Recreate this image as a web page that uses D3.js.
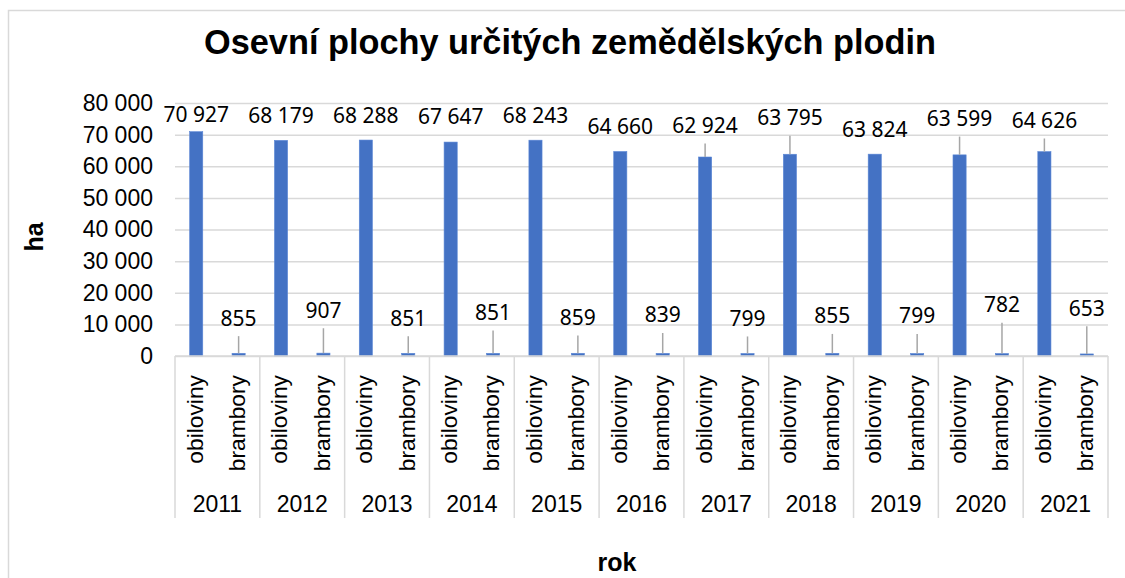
<!DOCTYPE html>
<html>
<head>
<meta charset="utf-8">
<script src="https://cdn.jsdelivr.net/npm/d3@7"></script>
<style>
  body { margin: 0; background: #fff; }
  svg { display: block; }
</style>
</head>
<body>
<div id="wrapper"></div>
<script>
// data
const years = ["2011", "2012", "2013", "2014", "2015", "2016", "2017", "2018", "2019", "2020", "2021"]
const crops = ["obiloviny", "brambory"]
const obiloviny = [70927, 68179, 68288, 67647, 68243, 64660, 62924, 63795, 63824, 63599, 64626]
const brambory = [855, 907, 851, 851, 859, 839, 799, 855, 799, 782, 653]
// where the data labels sit (in axis units, as placed in the original)
const obilovinyLabelAt = [74000, 73700, 73700, 73400, 73700, 70200, 70500, 73000, 69200, 72700, 72100]
const bramboryLabelAt = [9600, 12100, 9600, 11400, 9800, 10600, 9500, 10300, 10300, 13800, 12700]
const yTicks = [0, 10000, 20000, 30000, 40000, 50000, 60000, 70000, 80000]

const renderChart = () => {
  const dimensions = {
    width: 1125,
    height: 578,
    margins: { top: 103, right: 17, bottom: 222, left: 175 },
  }
  dimensions.boundedWidth =
    dimensions.width - dimensions.margins.left - dimensions.margins.right
  dimensions.boundedHeight =
    dimensions.height - dimensions.margins.top - dimensions.margins.bottom

  const locale = d3.formatLocale({ decimal: ",", thousands: " ", grouping: [3], currency: ["", ""] })
  const fmt = locale.format(",d")

  const svg = d3
    .select("#wrapper")
    .append("svg")
    .attr("width", dimensions.width)
    .attr("height", dimensions.height)

  // outer chart border
  svg
    .append("rect")
    .attr("x", 8.5)
    .attr("y", 10.5)
    .attr("width", 1200)
    .attr("height", 700)
    .attr("fill", "none")
    .attr("stroke", "#d9d9d9")
    .attr("stroke-width", 1.5)

  svg
    .append("text")
    .attr("x", 570)
    .attr("y", 54)
    .attr("text-anchor", "middle")
    .style("font-family", "'Liberation Sans', Arial, sans-serif")
    .style("font-weight", "bold")
    .style("font-size", "34.3px")
    .text("Osevní plochy určitých zemědělských plodin")

  const bounds = svg
    .append("g")
    .attr("transform", `translate(${dimensions.margins.left},${dimensions.margins.top})`)

  // scales
  const x0 = d3.scaleBand().domain(years).range([0, dimensions.boundedWidth])
  const x1 = d3
    .scaleBand()
    .domain(crops)
    .range([0, x0.bandwidth()])
    .paddingInner(0.69)
    .paddingOuter(0.345)
  const yScale = d3.scaleLinear().domain([0, 80000]).range([dimensions.boundedHeight, 0])

  // gridlines
  bounds
    .append("g")
    .call(d3.axisLeft(yScale).tickValues(yTicks).tickSize(-dimensions.boundedWidth).tickFormat(""))
    .call((g) => g.select(".domain").remove())
    .call((g) => g.selectAll("line").attr("stroke", "#d9d9d9").attr("stroke-width", 1.5))

  // y axis labels
  bounds
    .append("g")
    .call(d3.axisLeft(yScale).tickValues(yTicks).tickSize(0).tickPadding(22).tickFormat(fmt))
    .call((g) => g.select(".domain").remove())
    .call((g) =>
      g
        .selectAll("text")
        .attr("fill", "#000")
        .style("font-family", "'Liberation Sans', Arial, sans-serif")
        .style("font-size", "23px")
    )

  const rows = years.map((year, i) => ({
    year,
    values: [
      { crop: crops[0], value: obiloviny[i], labelAt: obilovinyLabelAt[i] },
      { crop: crops[1], value: brambory[i], labelAt: bramboryLabelAt[i] },
    ],
  }))

  const groups = bounds
    .selectAll(".year")
    .data(rows)
    .join("g")
    .attr("class", "year")
    .attr("transform", (d) => `translate(${x0(d.year)},0)`)

  // bars
  groups
    .selectAll("rect")
    .data((d) => d.values)
    .join("rect")
    .attr("x", (d) => x1(d.crop))
    .attr("width", x1.bandwidth())
    .attr("y", (d) => yScale(d.value))
    .attr("height", (d) => dimensions.boundedHeight - yScale(d.value))
    .attr("fill", "#4472c4")
    .attr("stroke", "#5b87d6")
    .attr("stroke-width", 0.6)

  // leader lines
  groups
    .selectAll(".leader")
    .data((d) => d.values.filter((v) => yScale(v.value) - (yScale(v.labelAt) + 10.5) > 8))
    .join("line")
    .attr("class", "leader")
    .attr("x1", (d) => x1(d.crop) + x1.bandwidth() / 2)
    .attr("x2", (d) => x1(d.crop) + x1.bandwidth() / 2)
    .attr("y1", (d) => yScale(d.labelAt) + 10.5)
    .attr("y2", (d) => yScale(d.value))
    .attr("stroke", "#a6a6a6")
    .attr("stroke-width", 1.5)

  // data labels
  groups
    .selectAll(".value")
    .data((d) => d.values)
    .join("text")
    .attr("class", "value")
    .attr("x", (d) => x1(d.crop) + x1.bandwidth() / 2)
    .attr("y", (d) => yScale(d.labelAt))
    .attr("text-anchor", "middle")
    .style("font-family", "'Noto Sans', 'Open Sans', sans-serif")
    .style("font-size", "21px")
    .attr("fill", "#000")
    .text((d) => fmt(d.value))

  // category axis (two levels)
  const axisG = bounds.append("g").attr("transform", `translate(0,${dimensions.boundedHeight})`)
  axisG
    .append("line")
    .attr("x1", 0)
    .attr("x2", dimensions.boundedWidth)
    .attr("stroke", "#d9d9d9")
    .attr("stroke-width", 1.5)

  axisG
    .selectAll(".sep")
    .data([...years.map((y) => x0(y)), dimensions.boundedWidth])
    .join("line")
    .attr("class", "sep")
    .attr("x1", (d) => d)
    .attr("x2", (d) => d)
    .attr("y1", 0)
    .attr("y2", 162)
    .attr("stroke", "#d9d9d9")
    .attr("stroke-width", 1.5)

  const catG = axisG
    .selectAll(".cat")
    .data(rows)
    .join("g")
    .attr("class", "cat")
    .attr("transform", (d) => `translate(${x0(d.year)},0)`)

  catG
    .selectAll("text")
    .data(crops)
    .join("text")
    .attr("transform", (c) => `translate(${x1(c) + x1.bandwidth() / 2},19) rotate(-90)`)
    .attr("dy", "0.28em")
    .attr("text-anchor", "end")
    .style("font-family", "'Liberation Sans', Arial, sans-serif")
    .style("font-size", "22.8px")
    .text((c) => c)

  catG
    .append("text")
    .attr("x", x0.bandwidth() / 2)
    .attr("y", 155.5)
    .attr("text-anchor", "middle")
    .style("font-family", "'Liberation Sans', Arial, sans-serif")
    .style("font-size", "23px")
    .text((d) => d.year)

  // axis titles
  svg
    .append("text")
    .attr("transform", "translate(43,237) rotate(-90)")
    .attr("text-anchor", "middle")
    .style("font-family", "'Liberation Sans', Arial, sans-serif")
    .style("font-weight", "bold")
    .style("font-size", "25px")
    .text("ha")

  svg
    .append("text")
    .attr("x", 617)
    .attr("y", 571)
    .attr("text-anchor", "middle")
    .style("font-family", "'Liberation Sans', Arial, sans-serif")
    .style("font-weight", "bold")
    .style("font-size", "25px")
    .text("rok")
}

renderChart()
</script>
</body>
</html>
